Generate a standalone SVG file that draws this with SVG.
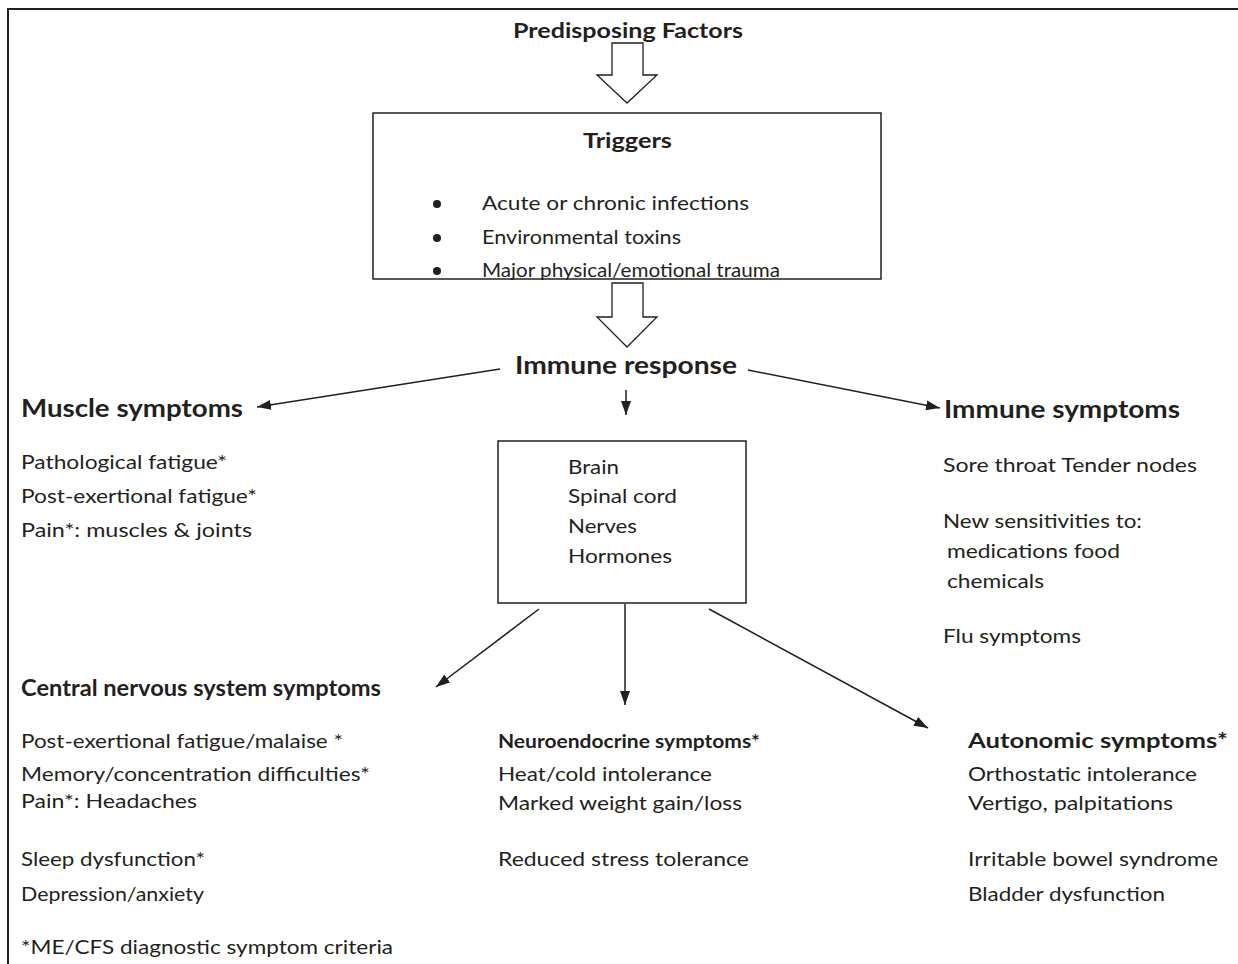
<svg xmlns="http://www.w3.org/2000/svg" width="1238" height="964" viewBox="0 0 1238 964">
<style>
text{font-family:Lato,"Open Sans","Liberation Sans",sans-serif;fill:#231f20}
.t{font-size:19px}
.h{font-size:24px;font-weight:bold}
.s{font-size:20px;font-weight:bold}
.ln{stroke:#231f20;stroke-width:1.5;fill:none}
.box{fill:#fff;stroke:#231f20;stroke-width:1.5}
.blk{fill:#fff;stroke:#231f20;stroke-width:1.3}
</style>
<defs>
<marker id="ah" viewBox="0 0 14 10" refX="14" refY="5" markerWidth="14" markerHeight="10" markerUnits="userSpaceOnUse" orient="auto">
<path d="M0,0 L14,5 L0,10 z" fill="#231f20"/>
</marker>
</defs>
<rect width="1238" height="964" fill="#fff"/>
<g id="frame">
<path d="M8,964 L8,9 L1238,9" stroke="#231f20" stroke-width="2" fill="none"/>
</g>
<g id="predisposing">
<text class="s" x="513" y="38" textLength="230" lengthAdjust="spacingAndGlyphs">Predisposing Factors</text>
</g>
<g id="triggers">
<rect class="box" x="373" y="113" width="508" height="166"/>
<text class="s" x="583" y="148" textLength="89" lengthAdjust="spacingAndGlyphs">Triggers</text>
<circle cx="437" cy="204" r="4" fill="#231f20"/>
<circle cx="437" cy="238" r="4" fill="#231f20"/>
<circle cx="437" cy="271" r="4" fill="#231f20"/>
<text class="t" x="482" y="210" textLength="267" lengthAdjust="spacingAndGlyphs">Acute or chronic infections</text>
<text class="t" x="482" y="244" textLength="199" lengthAdjust="spacingAndGlyphs">Environmental toxins</text>
<text class="t" x="482" y="277" textLength="298" lengthAdjust="spacingAndGlyphs">Major physical/emotional trauma</text>
</g>
<g id="immune-response">
<text class="h" x="515" y="374" textLength="222" lengthAdjust="spacingAndGlyphs">Immune response</text>
</g>
<g id="muscle">
<text class="h" x="21" y="417" textLength="222" lengthAdjust="spacingAndGlyphs">Muscle symptoms</text>
<text class="t" x="21" y="469" textLength="206" lengthAdjust="spacingAndGlyphs">Pathological fatigue*</text>
<text class="t" x="21" y="503" textLength="236" lengthAdjust="spacingAndGlyphs">Post-exertional fatigue*</text>
<text class="t" x="21" y="537" textLength="231" lengthAdjust="spacingAndGlyphs">Pain*: muscles &amp; joints</text>
</g>
<g id="cns-box">
<rect class="box" x="498" y="441" width="248" height="162"/>
<text class="t" x="568" y="474" textLength="51" lengthAdjust="spacingAndGlyphs">Brain</text>
<text class="t" x="568" y="503" textLength="109" lengthAdjust="spacingAndGlyphs">Spinal cord</text>
<text class="t" x="568" y="533" textLength="69" lengthAdjust="spacingAndGlyphs">Nerves</text>
<text class="t" x="568" y="563" textLength="104" lengthAdjust="spacingAndGlyphs">Hormones</text>
</g>
<g id="immune">
<text class="h" x="944" y="418" textLength="236" lengthAdjust="spacingAndGlyphs">Immune symptoms</text>
<text class="t" x="943" y="472" textLength="254" lengthAdjust="spacingAndGlyphs">Sore throat Tender nodes</text>
<text class="t" x="943" y="528" textLength="199" lengthAdjust="spacingAndGlyphs">New sensitivities to:</text>
<text class="t" x="947" y="558" textLength="173" lengthAdjust="spacingAndGlyphs">medications food</text>
<text class="t" x="947" y="588" textLength="97" lengthAdjust="spacingAndGlyphs">chemicals</text>
<text class="t" x="943" y="643" textLength="138" lengthAdjust="spacingAndGlyphs">Flu symptoms</text>
</g>
<g id="cns">
<text class="h" x="21" y="696" font-size="22" textLength="360" lengthAdjust="spacingAndGlyphs" style="font-size:22px">Central nervous system symptoms</text>
<text class="t" x="21" y="748" textLength="322" lengthAdjust="spacingAndGlyphs">Post-exertional fatigue/malaise *</text>
<text class="t" x="21" y="781" textLength="349" lengthAdjust="spacingAndGlyphs">Memory/concentration difficulties*</text>
<text class="t" x="21" y="808" textLength="176" lengthAdjust="spacingAndGlyphs">Pain*: Headaches</text>
<text class="t" x="21" y="866" textLength="184" lengthAdjust="spacingAndGlyphs">Sleep dysfunction*</text>
<text class="t" x="21" y="901" textLength="183" lengthAdjust="spacingAndGlyphs">Depression/anxiety</text>
<text class="t" x="21" y="954" textLength="372" lengthAdjust="spacingAndGlyphs">*ME/CFS diagnostic symptom criteria</text>
</g>
<g id="neuroendocrine">
<text class="s" x="498" y="748" textLength="262" lengthAdjust="spacingAndGlyphs" style="font-size:19px">Neuroendocrine symptoms*</text>
<text class="t" x="498" y="781" textLength="214" lengthAdjust="spacingAndGlyphs">Heat/cold intolerance</text>
<text class="t" x="498" y="810" textLength="244" lengthAdjust="spacingAndGlyphs">Marked weight gain/loss</text>
<text class="t" x="498" y="866" textLength="251" lengthAdjust="spacingAndGlyphs">Reduced stress tolerance</text>
</g>
<g id="autonomic">
<text class="s" x="968" y="748" textLength="260" lengthAdjust="spacingAndGlyphs">Autonomic symptoms*</text>
<text class="t" x="968" y="781" textLength="229" lengthAdjust="spacingAndGlyphs">Orthostatic intolerance</text>
<text class="t" x="968" y="810" textLength="205" lengthAdjust="spacingAndGlyphs">Vertigo, palpitations</text>
<text class="t" x="968" y="866" textLength="250" lengthAdjust="spacingAndGlyphs">Irritable bowel syndrome</text>
<text class="t" x="968" y="901" textLength="197" lengthAdjust="spacingAndGlyphs">Bladder dysfunction</text>
</g>
<g id="connectors">
<polygon class="blk" points="612,43 643,43 643,75 657,75 627,103 597,75 612,75"/>
<polygon class="blk" points="612,283 643,283 643,317 657,317 627,347 597,317 612,317"/>
<line class="ln" x1="500" y1="369" x2="257" y2="407" marker-end="url(#ah)"/>
<line class="ln" x1="748" y1="370" x2="940" y2="408" marker-end="url(#ah)"/>
<line class="ln" x1="626" y1="390" x2="626" y2="415" marker-end="url(#ah)"/>
<line class="ln" x1="539" y1="609" x2="436" y2="687" marker-end="url(#ah)"/>
<line class="ln" x1="625" y1="604" x2="625" y2="705" marker-end="url(#ah)"/>
<line class="ln" x1="709" y1="609" x2="928" y2="728" marker-end="url(#ah)"/>
</g>
</svg>
